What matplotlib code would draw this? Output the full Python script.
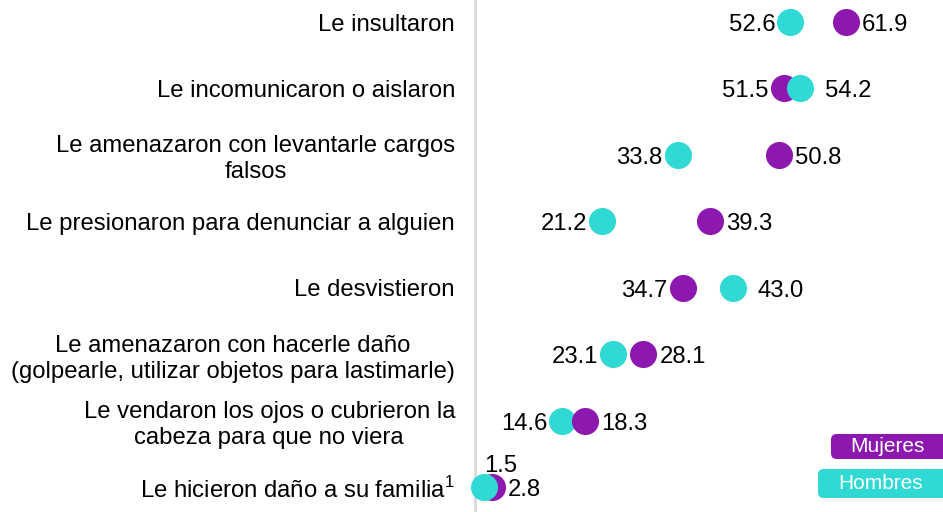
import matplotlib
matplotlib.use("Agg")
import matplotlib.pyplot as plt
from matplotlib.patches import FancyBboxPatch

plt.rcParams['font.family'] = ['Liberation Sans', 'DejaVu Sans']
plt.rcParams['mathtext.fontset'] = 'custom'
plt.rcParams['mathtext.rm'] = 'Liberation Sans'

categories = [
    "Le insultaron",
    "Le incomunicaron o aislaron",
    "Le amenazaron con levantarle cargos\nfalsos",
    "Le presionaron para denunciar a alguien",
    "Le desvistieron",
    "Le amenazaron con hacerle daño\n(golpearle, utilizar objetos para lastimarle)",
    "Le vendaron los ojos o cubrieron la\ncabeza para que no viera",
    "Le hicieron daño a su familia$^{\\mathrm{1}}$",
]
mujeres = [61.9, 51.5, 50.8, 39.3, 34.7, 28.1, 18.3, 2.8]
hombres = [52.6, 54.2, 33.8, 21.2, 43.0, 23.1, 14.6, 1.5]
hombres_on_top = [True, True, True, True, True, True, False, True]

PURPLE = '#8D18AF'
TURQ = '#30D9D3'
FS = 17.2

fig = plt.figure(figsize=(9.43, 5.12), dpi=100)
ax = fig.add_axes([475 / 943, 0, 1 - 475 / 943, 1])
ax.set_xlim(0, 78.1)
n = len(categories)
ax.set_ylim(n - 1 + 25 / 66.4, -22 / 66.4)

for s in ['top', 'right', 'bottom']:
    ax.spines[s].set_visible(False)
ax.spines['left'].set_color('#D9D9D9')
ax.spines['left'].set_linewidth(2)
ax.set_xticks([])
ax.set_yticks(range(n))
ax.set_yticklabels(categories, fontsize=FS)
ax.tick_params(axis='y', length=0, pad=14.4)
for lbl in ax.get_yticklabels():
    lbl.set_multialignment('center')
    lbl.set_linespacing(1.23)

ms = 380
DY = -3
for i in range(n):
    m, h = mujeres[i], hombres[i]
    zh, zm = (4, 3) if hombres_on_top[i] else (3, 4)
    ax.scatter([m], [i], s=ms, color=PURPLE, zorder=zm, clip_on=False, linewidths=0)
    ax.scatter([h], [i], s=ms, color=TURQ, zorder=zh, clip_on=False, linewidths=0)
    if h < m:
        left_v, right_v, right_is_h = h, m, False
    else:
        left_v, right_v, right_is_h = m, h, True
    if left_v < 5:
        ax.annotate(f"{left_v:.1f}", (left_v, i), xytext=(0, 21), textcoords='offset pixels',
                    ha='left', va='center', fontsize=FS)
    else:
        ax.annotate(f"{left_v:.1f}", (left_v, i), xytext=(-15, DY), textcoords='offset pixels',
                    ha='right', va='center', fontsize=FS)
    off = 25 if right_is_h else 16
    ax.annotate(f"{right_v:.1f}", (right_v, i), xytext=(off, DY), textcoords='offset pixels',
                ha='left', va='center', fontsize=FS)

W, H = 943, 512
def legend_box(x0, y0, x1, y1, color, text):
    box = FancyBboxPatch((x0 / W, 1 - y1 / H), (x1 - x0) / W, (y1 - y0) / H,
                         boxstyle="round,pad=0,rounding_size=0.006",
                         transform=fig.transFigure, facecolor=color, edgecolor='none',
                         mutation_aspect=W / H)
    fig.patches.append(box)
    fig.text((x0 + 943) / 2 / W, 1 - (y0 + y1) / 2 / H, text, color='white',
             ha='center', va='center', fontsize=15)

legend_box(831, 434, 960, 459, PURPLE, "Mujeres")
legend_box(818, 469, 960, 498, TURQ, "Hombres")

fig.savefig("out.png", dpi=100)
